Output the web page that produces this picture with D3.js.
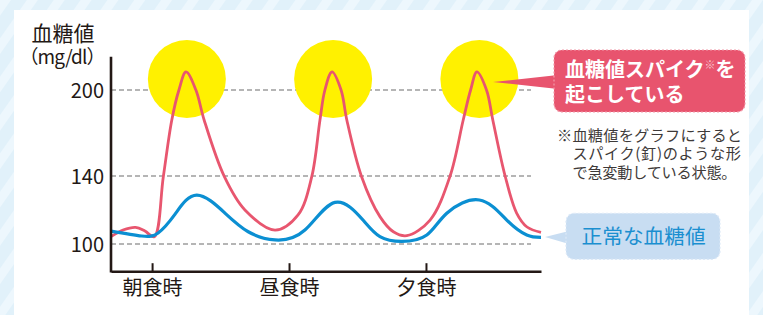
<!DOCTYPE html>
<html>
<head>
<meta charset="utf-8">
<script src="https://cdn.jsdelivr.net/npm/d3@7"></script>
<style>
  html, body { margin: 0; padding: 0; background: #fff; }
  svg { display: block; font-family: "Noto Sans CJK JP", "Noto Sans", sans-serif; }
</style>
</head>
<body>
<div id="chart"></div>
<script>
  // hours of the day
  var mealHours = [8, 13, 18];
  var mealLabels = ["朝食時", "昼食時", "夕食時"];
  var yTicks = [100, 140, 200];

  // spike curve (hour, mg/dl)
  var spikeHours = [6.5, 6.94, 7.40, 7.74, 8.08, 8.41, 8.72, 8.98, 9.24, 9.60, 9.90, 10.64, 11.39, 12.49,
                    13.33, 13.83, 14.13, 14.31, 14.57, 14.90, 15.11, 15.65, 16.32, 16.81, 17.30,
                    18.15, 18.88, 19.36, 19.63, 19.86, 20.21, 20.44, 20.89, 21.31, 21.69, 22.2];
  var spikeValues = [104.3, 108.2, 109.8, 107.6, 104.3, 139.6, 179.1, 200, 212.6, 200, 179.1, 139.6, 120, 108.2,
                     117.1, 139.6, 179.1, 200, 212.6, 200, 179.1, 139.6, 116.1, 107.2, 104.9,
                     114.1, 140, 179.1, 200, 212.6, 200, 179.1, 140, 118.2, 110, 106.9];

  // normal curve (hour, mg/dl)
  var normalHours = [6.5, 7.62, 8.22, 8.84, 9.63, 10.66, 11.51, 12.49, 13.58, 14.68, 15.70, 16.32,
                     17.11, 18.03, 18.76, 19.95, 20.95, 21.68, 22.2];
  var normalValues = [107.6, 104.7, 106.5, 117.6, 128.8, 118.2, 107.2, 102.4, 108.2, 124.5, 114.1, 104.3,
                      101.5, 105.3, 118.1, 125.9, 114.1, 105.3, 103.9];

  // yellow highlights around the spikes
  var spotHours = [9.27, 14.61, 19.95];
  var spotValue = 207.7;

  var width = 763, height = 315;

  var svg = d3.select("#chart")
      .append("svg")
      .attr("width", width)
      .attr("height", height);

  // striped light blue background
  var defs = svg.append("defs");
  var pat = defs.append("pattern")
      .attr("id", "stripes")
      .attr("width", 22)
      .attr("height", 22)
      .attr("patternUnits", "userSpaceOnUse")
      .attr("patternTransform", "rotate(35)");
  pat.append("rect").attr("width", 22).attr("height", 22).attr("fill", "#e1f1fa");
  pat.append("rect").attr("width", 9).attr("height", 22).attr("fill", "#edf7fd");

  svg.append("rect").attr("width", width).attr("height", height).attr("fill", "url(#stripes)");
  svg.append("rect")
      .attr("x", 14).attr("y", 10)
      .attr("width", 735).attr("height", height - 10)
      .attr("fill", "#fff");

  // scales
  var x = d3.scaleLinear()
      .domain([6.5, 22.2])
      .range([111, 541]);

  // the picture's vertical axis is not evenly spaced
  var y = d3.scaleLinear()
      .domain([100, 140, 200])
      .range([244, 176, 90]);

  var yAxisExtent = [84, 223.2];

  // gridlines
  svg.append("g")
      .selectAll("line")
      .data(yTicks)
      .enter()
      .append("line")
      .attr("x1", x.range()[0])
      .attr("x2", x.range()[1] - 10)
      .attr("y1", d => y(d))
      .attr("y2", d => y(d))
      .attr("stroke", "#9d9d9d")
      .attr("stroke-width", 1.3)
      .attr("stroke-dasharray", "5,3");

  // yellow spots
  svg.append("g")
      .selectAll("circle")
      .data(spotHours)
      .enter()
      .append("circle")
      .attr("cx", d => x(d))
      .attr("cy", y(spotValue))
      .attr("r", 39)
      .attr("fill", "#fff100");

  // curves
  var spike = spikeHours.map((h, i) => [h, spikeValues[i]]);
  var normal = normalHours.map((h, i) => [h, normalValues[i]]);

  var spikeLine = d3.line()
      .x(d => x(d[0]))
      .y(d => y(d[1]))
      .curve(d3.curveCatmullRom.alpha(0.5));

  var normalLine = d3.line()
      .x(d => x(d[0]))
      .y(d => y(d[1]))
      .curve(d3.curveNatural);

  svg.append("path")
      .datum(spike)
      .attr("d", spikeLine)
      .attr("fill", "none")
      .attr("stroke", "#e8566f")
      .attr("stroke-width", 2.8);

  svg.append("path")
      .datum(normal)
      .attr("d", normalLine)
      .attr("fill", "none")
      .attr("stroke", "#0b8fd2")
      .attr("stroke-width", 3.2);

  // axes
  var axisColor = "#231815";
  var xAxis = svg.append("g")
      .attr("transform", "translate(0," + y(yAxisExtent[0]) + ")")
      .call(d3.axisBottom(x)
            .tickValues(mealHours)
            .tickFormat((d, i) => mealLabels[i])
            .tickSizeInner(-8)
            .tickSizeOuter(0));
  xAxis.select(".domain").attr("stroke", axisColor).attr("stroke-width", 2.6);
  xAxis.selectAll(".tick line").attr("stroke", axisColor).attr("stroke-width", 2);
  xAxis.selectAll(".tick text")
      .attr("y", 24)
      .attr("dy", 0)
      .attr("fill", "#231815")
      .style("font-size", "20px")
      .style("font-family", "Noto Sans CJK JP");

  svg.append("line")
      .attr("x1", x.range()[0]).attr("x2", x.range()[0])
      .attr("y1", y(yAxisExtent[0]) + 1.3).attr("y2", y(yAxisExtent[1]))
      .attr("stroke", axisColor)
      .attr("stroke-width", 2.6);

  var yAxis = svg.append("g")
      .attr("transform", "translate(" + x.range()[0] + ",0)")
      .call(d3.axisLeft(y).tickValues(yTicks).tickSize(0).tickPadding(7));
  yAxis.select(".domain").remove();
  yAxis.selectAll(".tick text")
      .attr("fill", "#231815")
      .attr("dy", "0.36em")
      .style("font-size", "20px")
      .style("font-family", "Noto Sans CJK JP");

  // axis title
  svg.append("text")
      .attr("x", 63).attr("y", 41)
      .attr("text-anchor", "middle")
      .attr("fill", "#231815")
      .style("font-size", "21px")
      .text("血糖値");
  svg.append("text")
      .attr("x", 62.5).attr("y", 64)
      .attr("text-anchor", "middle")
      .attr("fill", "#231815")
      .attr("textLength", 86)
      .attr("lengthAdjust", "spacing")
      .style("font-size", "19px")
      .text("（mg/dl）");

  // spike callout
  var red = "#e8546e";
  svg.append("polygon")
      .attr("points", "493,82 558,75 558,89")
      .attr("fill", red);
  svg.append("rect")
      .attr("x", 554).attr("y", 50)
      .attr("width", 191).attr("height", 62)
      .attr("rx", 8)
      .attr("fill", red)
      .attr("stroke", "#f29aa9")
      .attr("stroke-width", 1.2)
      .attr("stroke-dasharray", "2,2");
  var t1 = svg.append("text")
      .attr("x", 565).attr("y", 77)
      .attr("fill", "#fff")
      .style("font-size", "20px")
      .style("font-weight", "bold");
  t1.append("tspan").text("血糖値スパイク");
  t1.append("tspan").attr("dy", -8).style("font-size", "11px").style("font-weight", "normal").attr("fill", "#f7c3cc").text("※");
  t1.append("tspan").attr("dy", 8).text("を");
  svg.append("text")
      .attr("x", 565).attr("y", 101.5)
      .attr("fill", "#fff")
      .style("font-size", "20px")
      .style("font-weight", "bold")
      .text("起こしている");

  // footnote
  var note = ["※血糖値をグラフにすると", "スパイク(釘)のような形", "で急変動している状態。"];
  var noteLength = [185, 168.5, 164];
  svg.append("g")
      .selectAll("text")
      .data(note)
      .enter()
      .append("text")
      .attr("x", (d, i) => i === 0 ? 557 : 572.5)
      .attr("y", (d, i) => 140.5 + i * 18.8)
      .attr("textLength", (d, i) => noteLength[i])
      .attr("lengthAdjust", "spacing")
      .attr("fill", "#3e3a39")
      .style("font-size", "15.2px")
      .text(d => d);

  // normal callout
  svg.append("polygon")
      .attr("points", "545,237 569,231 569,244")
      .attr("fill", "#c8ddf2");
  svg.append("rect")
      .attr("x", 566).attr("y", 213.3)
      .attr("width", 154).attr("height", 46)
      .attr("rx", 8)
      .attr("fill", "#c8ddf2")
      .attr("stroke", "#dde9f7")
      .attr("stroke-width", 1.2)
      .attr("stroke-dasharray", "2,2");
  svg.append("text")
      .attr("x", 581.5).attr("y", 244)
      .attr("fill", "#1b8fd0")
      .style("font-size", "20.7px")
      .text("正常な血糖値");
</script>
</body>
</html>
